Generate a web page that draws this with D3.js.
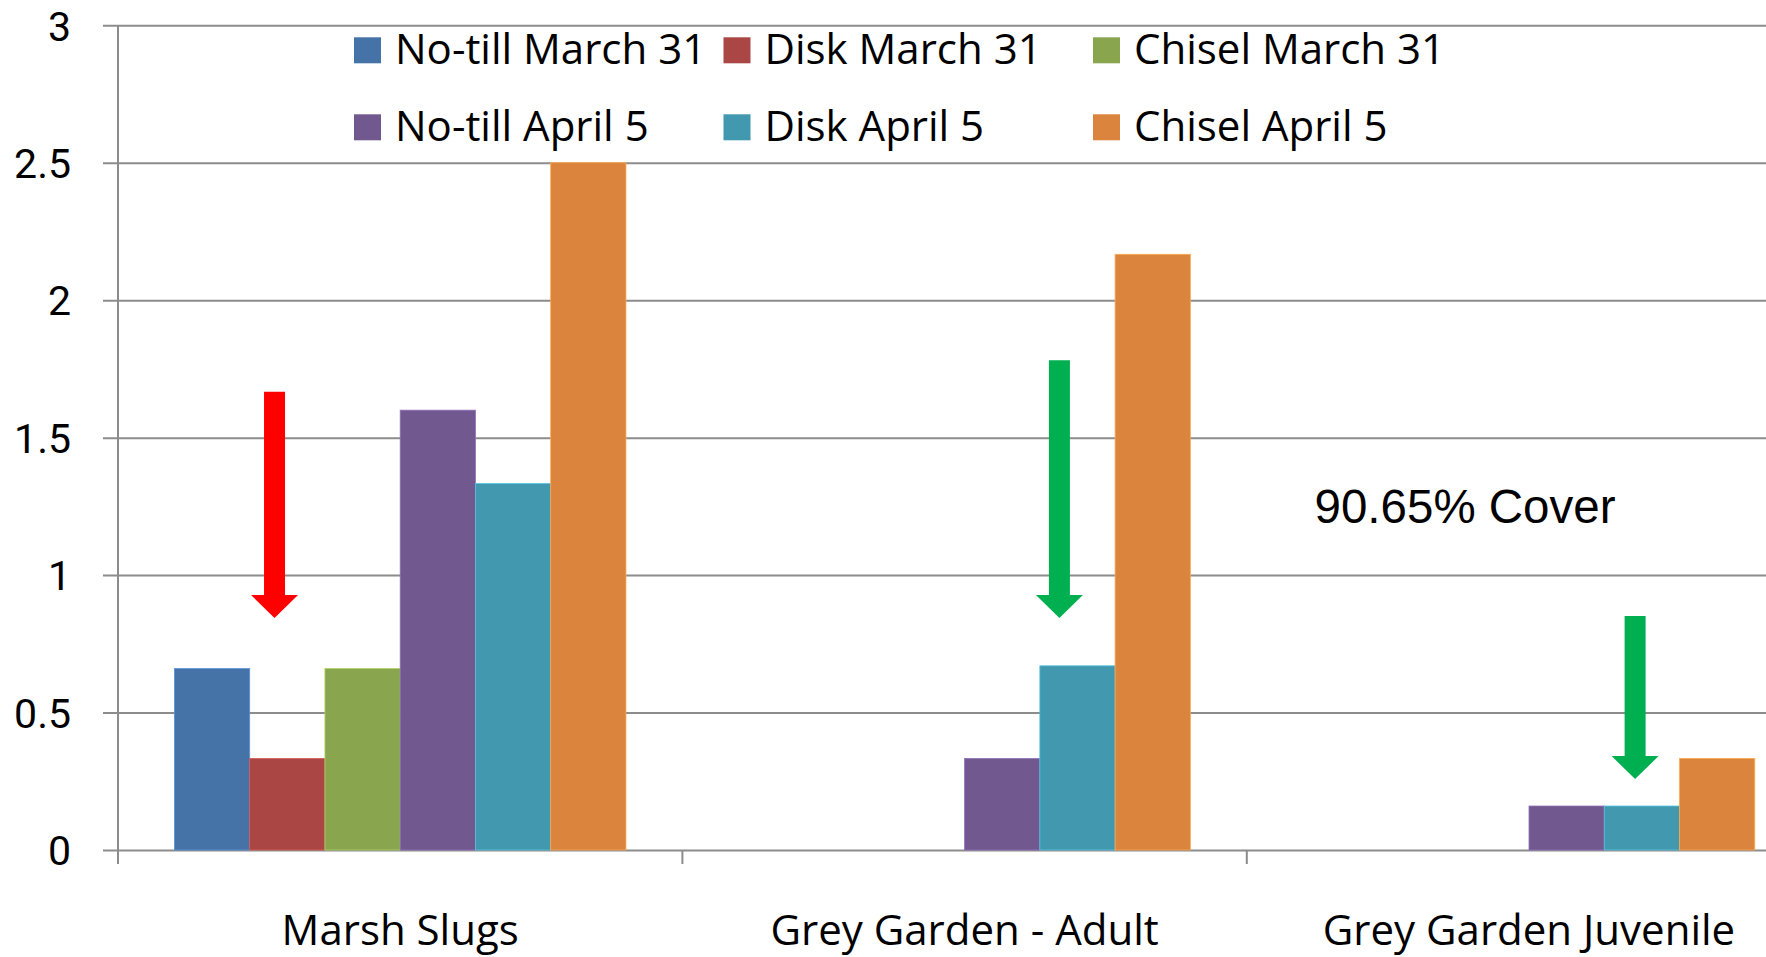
<!DOCTYPE html>
<html>
<head>
<meta charset="utf-8">
<script src="https://cdn.jsdelivr.net/npm/d3@7"></script>
<style>
  html, body { margin: 0; padding: 0; background: #fff; overflow: hidden; }
  svg { display: block; }
</style>
</head>
<body>
<div id="chart"></div>
<script>
const categories = ['Marsh Slugs', 'Grey Garden - Adult', 'Grey Garden Juvenile'];
const seriesNames = ['No-till March 31', 'Disk March 31', 'Chisel March 31', 'No-till April 5', 'Disk April 5', 'Chisel April 5'];
const seriesColors = ['#4572A7', '#AA4643', '#89A54E', '#71588F', '#4198AF', '#DB843D'];

// one array per series, values per category
const noTillMar31 = [0.66, 0, 0];
const diskMar31 = [0.333, 0, 0];
const chiselMar31 = [0.66, 0, 0];
const noTillApr5 = [1.6, 0.333, 0.16];
const diskApr5 = [1.333, 0.67, 0.16];
const chiselApr5 = [2.5, 2.167, 0.333];

const yTicks = [0, 0.5, 1, 1.5, 2, 2.5, 3];

// down arrows drawn over the bars (slot = position in bar widths inside the group)
const arrowCategory = ['Marsh Slugs', 'Grey Garden - Adult', 'Grey Garden Juvenile'];
const arrowSlot = [1.33, 4.26, 4.41];
const arrowFrom = [1.667, 1.782, 0.851];
const arrowTo = [0.844, 0.844, 0.258];
const arrowColor = ['#ff0000', '#00b050', '#00b050'];

const noteText = '90.65% Cover';
const noteCategory = 'Grey Garden Juvenile';
const noteSlot = 0.15;
const noteValue = 1.19;

(function () {
  const W = 1766, H = 957;
  const left = 118, top = 25.3, bottom = 850;
  const bandW = 564.4;
  const font = "'Open Sans', sans-serif";

  const seriesValues = [noTillMar31, diskMar31, chiselMar31, noTillApr5, diskApr5, chiselApr5];

  const svg = d3.select('#chart').append('svg')
    .attr('width', W)
    .attr('height', H);

  const x0 = d3.scaleBand()
    .domain(categories)
    .range([left, left + bandW * categories.length])
    .padding(0);

  const x1 = d3.scaleBand()
    .domain(seriesNames)
    .range([0, x0.bandwidth()])
    .paddingInner(0)
    .paddingOuter(0.75);

  const y = d3.scaleLinear()
    .domain([0, 3])
    .range([bottom, top]);

  const plotRight = x0.range()[1];

  // y axis with gridlines
  const yAxis = d3.axisLeft(y)
    .tickValues(yTicks)
    .tickFormat(d3.format('~g'))
    .tickSizeInner(-(plotRight - left))
    .tickSizeOuter(0)
    .tickPadding(47);

  const gy = svg.append('g')
    .attr('transform', `translate(${left},0)`)
    .call(yAxis);

  gy.select('.domain').remove();
  gy.selectAll('.tick line')
    .attr('x1', -15)
    .attr('stroke', '#8c8c8c')
    .attr('stroke-width', 2);
  gy.selectAll('.tick text')
    .attr('font-family', "Roboto, sans-serif")
    .attr('font-size', 41)
    .attr('fill', '#000')
    .attr('dy', '0.36em');

  // vertical axis line
  svg.append('line')
    .attr('x1', left).attr('x2', left)
    .attr('y1', y(3)).attr('y2', bottom + 14)
    .attr('stroke', '#8c8c8c')
    .attr('stroke-width', 2);

  // category boundary ticks
  svg.selectAll('line.cat-tick')
    .data(categories.slice(1))
    .enter().append('line')
    .attr('class', 'cat-tick')
    .attr('x1', d => x0(d)).attr('x2', d => x0(d))
    .attr('y1', bottom).attr('y2', bottom + 14)
    .attr('stroke', '#8c8c8c')
    .attr('stroke-width', 2);

  // category labels
  const xAxis = d3.axisBottom(x0).tickSize(0).tickPadding(0);
  const gx = svg.append('g')
    .attr('transform', `translate(0,${bottom})`)
    .call(xAxis);
  gx.select('.domain').remove();
  gx.selectAll('.tick text')
    .attr('font-family', font)
    .attr('font-size', 42)
    .attr('fill', '#000')
    .attr('dy', null)
    .attr('y', 95);

  // bars
  const rows = [];
  categories.forEach((c, ci) => {
    seriesNames.forEach((s, si) => {
      rows.push({ category: c, series: s, color: seriesColors[si], value: seriesValues[si][ci] });
    });
  });

  svg.append('g')
    .selectAll('rect')
    .data(rows.filter(d => d.value > 0))
    .enter().append('rect')
    .attr('x', d => x0(d.category) + x1(d.series))
    .attr('y', d => y(d.value))
    .attr('width', x1.bandwidth())
    .attr('height', d => y(0) - y(d.value))
    .attr('fill', d => d.color)
    .attr('stroke', d => d3.color(d.color).brighter(0.7))
    .attr('stroke-width', 0.8);

  // arrows
  const shaftW = 21, headW = 47, headH = 23;
  const arrows = arrowCategory.map((c, i) => ({
    cx: x0(c) + x1(seriesNames[0]) + arrowSlot[i] * x1.step(),
    y0: y(arrowFrom[i]),
    y1: y(arrowTo[i]),
    color: arrowColor[i]
  }));

  svg.append('g')
    .selectAll('path')
    .data(arrows)
    .enter().append('path')
    .attr('d', d => {
      const hy = d.y1 - headH;
      return `M${d.cx - shaftW / 2},${d.y0}` +
        `L${d.cx + shaftW / 2},${d.y0}` +
        `L${d.cx + shaftW / 2},${hy}` +
        `L${d.cx + headW / 2},${hy}` +
        `L${d.cx},${d.y1}` +
        `L${d.cx - headW / 2},${hy}` +
        `L${d.cx - shaftW / 2},${hy}Z`;
    })
    .attr('fill', d => d.color);

  // annotation
  svg.append('text')
    .attr('x', x0(noteCategory) + x1(seriesNames[0]) + noteSlot * x1.step())
    .attr('y', y(noteValue))
    .attr('font-family', "'Liberation Sans', Arial, sans-serif")
    .attr('font-size', 47.5)
    .attr('fill', '#000')
    .text(noteText);

  // legend, 3 columns x 2 rows
  const legX = 354, legY = 37.3, colStep = 369.5, rowStep = 77, sw = 27;
  const leg = svg.append('g')
    .selectAll('g')
    .data(seriesNames)
    .enter().append('g')
    .attr('transform', (d, i) => `translate(${legX + (i % 3) * colStep},${legY + Math.floor(i / 3) * rowStep})`);

  leg.append('rect')
    .attr('width', sw)
    .attr('height', 26)
    .attr('fill', (d, i) => seriesColors[i]);

  leg.append('text')
    .attr('x', 41)
    .attr('y', 27)
    .attr('font-family', font)
    .attr('font-size', 42)
    .attr('fill', '#000')
    .text(d => d);
})();
</script>
</body>
</html>
